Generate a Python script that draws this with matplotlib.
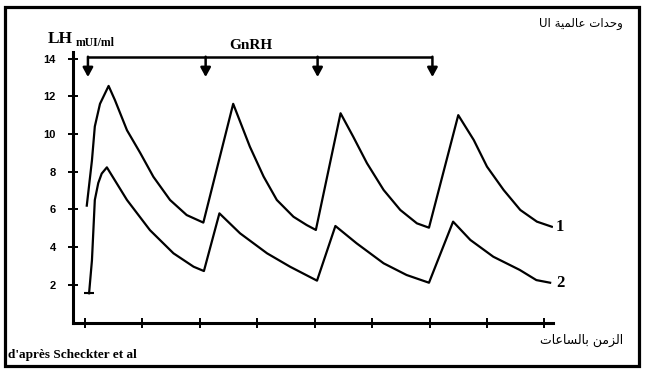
import matplotlib
matplotlib.use("Agg")
import matplotlib.pyplot as plt
from matplotlib.patches import Rectangle

# time (hours) and LH (mUI/ml)
t1 = [0.03, 0.12, 0.17, 0.26, 0.41, 0.52, 0.73, 0.96, 1.19, 1.48, 1.77, 2.06,
      2.58, 2.87, 3.11, 3.34, 3.63, 3.86, 4.02,
      4.45, 4.67, 4.91, 5.2, 5.49, 5.78, 5.99,
      6.5, 6.77, 7.0, 7.29, 7.58, 7.87, 8.13]
lh1 = [6.2, 8.6, 10.4, 11.6, 12.55, 11.8, 10.2, 9.0, 7.73, 6.5, 5.7, 5.3,
       11.6, 9.33, 7.74, 6.5, 5.61, 5.17, 4.91,
       11.1, 9.86, 8.45, 7.03, 5.97, 5.26, 5.03,
       11.0, 9.68, 8.27, 7.03, 5.97, 5.35, 5.08]

t2 = [0.07, 0.12, 0.17, 0.23, 0.29, 0.38, 0.73, 1.13, 1.54, 1.89, 2.07,
      2.34, 2.7, 3.17, 3.57, 4.04,
      4.36, 4.73, 5.2, 5.6, 5.99,
      6.41, 6.71, 7.11, 7.57, 7.86, 8.1]
lh2 = [1.55, 3.3, 6.5, 7.4, 7.9, 8.23, 6.5, 4.9, 3.67, 2.96, 2.73,
       5.79, 4.73, 3.67, 2.96, 2.22,
       5.12, 4.2, 3.14, 2.52, 2.11,
       5.35, 4.38, 3.49, 2.79, 2.25, 2.11]

gnrh_times = [0.05, 2.1, 4.05, 6.05]
yticks = [2, 4, 6, 8, 10, 12, 14]
xticks = [0, 1, 2, 3, 4, 5, 6, 7, 8]

# arabic text, shaped by hand (presentation forms, visual order)
ar_units = "UI " + "\ufe94\ufef4\ufee4\ufedf\ufe8e\ufecb" + " " + "\ufe95\ufe8d\ufeaa\ufea3\ufeed"
ar_time = "\ufe95\ufe8e\ufecb\ufe8e\ufeb4\ufedf\ufe8e\ufe91" + " " + "\ufee6\ufee3\ufeb0\ufedf\ufe8d"

W, H = 648, 375
fig = plt.figure(figsize=(W / 100, H / 100), dpi=100)
ax = fig.add_axes([73 / W, 1 - 322.5 / H, (553 - 73) / W, (322.5 - 52) / H])

ax.plot(t1, lh1, color='black', lw=1.6, solid_joinstyle='round')
ax.plot(t2, lh2, color='black', lw=1.6, solid_joinstyle='round',
        marker='_', markevery=[0], ms=7, mew=1.5)

ax.set_xlim(-0.21, 8.15)
ax.set_ylim(0, 14.35)

for s in ['top', 'right']:
    ax.spines[s].set_visible(False)
for s in ['left', 'bottom']:
    ax.spines[s].set_linewidth(2.2)

ax.set_xticks(xticks)
ax.set_xticklabels([])
ax.set_yticks(yticks)
ax.set_yticklabels([str(v) for v in yticks], fontsize=8, fontweight='bold', family='Liberation Sans')
ax.tick_params(axis='both', direction='inout', length=7, width=1.4, pad=9)
ax.tick_params(axis='x', pad=0)

# GnRH injections
ax.hlines(14.07, gnrh_times[0], gnrh_times[-1], color='black', lw=1.8, clip_on=False)
for t in gnrh_times:
    ax.annotate('', xy=(t, 13.02), xytext=(t, 14.1),
                arrowprops=dict(arrowstyle='-|>,head_width=0.3,head_length=0.55',
                                color='black', lw=1.8, shrinkA=0, shrinkB=0),
                annotation_clip=False)

ax.text(8.2, lh1[-1], '1', fontsize=12, fontweight='bold', family='Liberation Serif',
        va='center', ha='left', clip_on=False)
ax.text(8.2, lh2[-1], '2', fontsize=12, fontweight='bold', family='Liberation Serif',
        va='center', ha='left', clip_on=False)

serif = dict(family='Liberation Serif', fontweight='bold')
fig.text(48 / W, 1 - 43 / H, 'LH', fontsize=12.5, ha='left', va='baseline', **serif)
fig.text(76 / W, 1 - 46 / H, 'mUI/ml', fontsize=8.5, ha='left', va='baseline', **serif)
fig.text(251 / W, 1 - 49 / H, 'GnRH', fontsize=11, ha='center', va='baseline', **serif)
fig.text(8 / W, 1 - 358 / H, "d'après Scheckter et al", fontsize=9.5, ha='left', va='baseline', **serif)
fig.text(623 / W, 1 - 23 / H, ar_units, fontsize=8.5, ha='right', va='center', family='DejaVu Sans')
fig.text(623 / W, 1 - 340 / H, ar_time, fontsize=9, ha='right', va='center', family='DejaVu Sans')

fig.patches.append(Rectangle((5 / W, 1 - 366 / H), 634 / W, 359 / H, transform=fig.transFigure,
                             fill=False, lw=2.3, edgecolor='black'))

fig.savefig('out.png', dpi=100)
